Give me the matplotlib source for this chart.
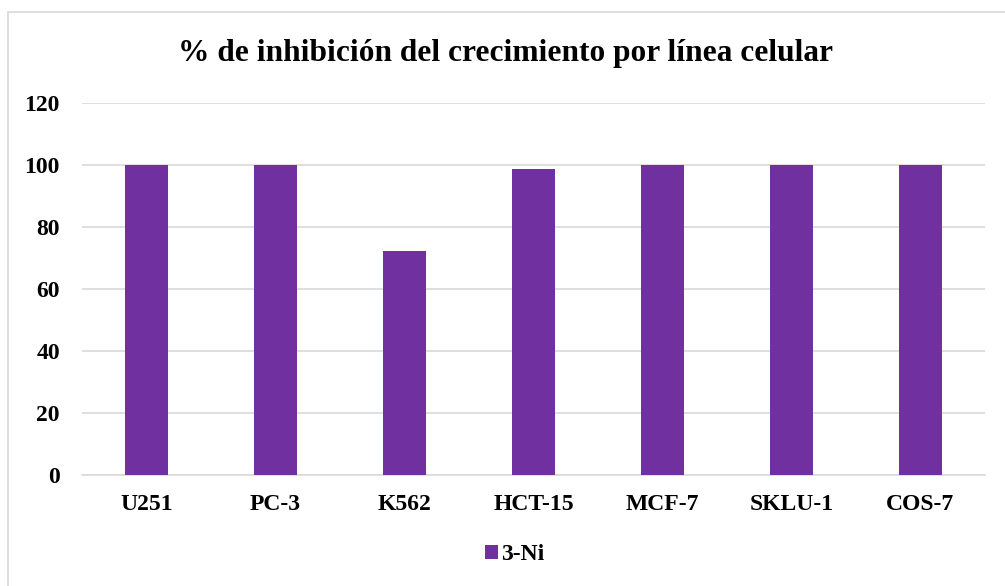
import matplotlib.pyplot as plt
from matplotlib.patches import Rectangle

lineas = ["U251", "PC-3", "K562", "HCT-15", "MCF-7", "SKLU-1", "COS-7"]
inhibicion = [100, 100, 72.2, 98.6, 100, 100, 100]
serie = "3-Ni"

plt.rcParams['font.family'] = ['Liberation Serif', 'DejaVu Serif']
plt.rcParams['font.weight'] = 'bold'

fig = plt.figure(figsize=(10.05, 5.86), dpi=100)
ax = fig.add_axes([0.0816, 0.1894, 0.8984, 0.6348])

# outer chart frame
fig.patches.append(Rectangle((8 / 1005, -0.1), 1.2, 1 - 12 / 586 + 0.1,
                             transform=fig.transFigure, fill=False,
                             edgecolor='#d9d9d9', linewidth=1.2))

x = range(len(lineas))
bars = ax.bar(x, inhibicion, width=0.33, color='#7030A0', label=serie, zorder=3)

ax.set_xlim(-0.5, len(lineas) - 0.5)
ax.set_ylim(0, 120)
ax.set_yticks(range(0, 121, 20))
ax.set_xticks(list(x))
ax.set_xticklabels(lineas)
ax.grid(axis='y', color='#d9d9d9', linewidth=1.2, zorder=0)
for s in ['top', 'right', 'left']:
    ax.spines[s].set_visible(False)
ax.spines['bottom'].set_color('#d9d9d9')
ax.spines['bottom'].set_linewidth(1.2)
ax.tick_params(axis='both', length=0, labelsize=17)
ax.tick_params(axis='y', pad=16)
ax.tick_params(axis='x', pad=14)
for lbl in ax.get_xticklabels() + ax.get_yticklabels():
    lbl.set_fontweight('bold')

fig.text(0.5025, 1 - 54 / 586, "% de inhibición del crecimiento por línea celular",
         ha='center', va='center', fontsize=22.6, fontweight='bold')

fig.legend(handles=[bars], labels=[serie], loc='center',
           bbox_to_anchor=(0.512, 1 - 555 / 586), frameon=False,
           prop={'size': 17, 'weight': 'bold'}, handlelength=0.55,
           handleheight=0.55, handletextpad=0.15)

fig.savefig('out.png', dpi=100)
